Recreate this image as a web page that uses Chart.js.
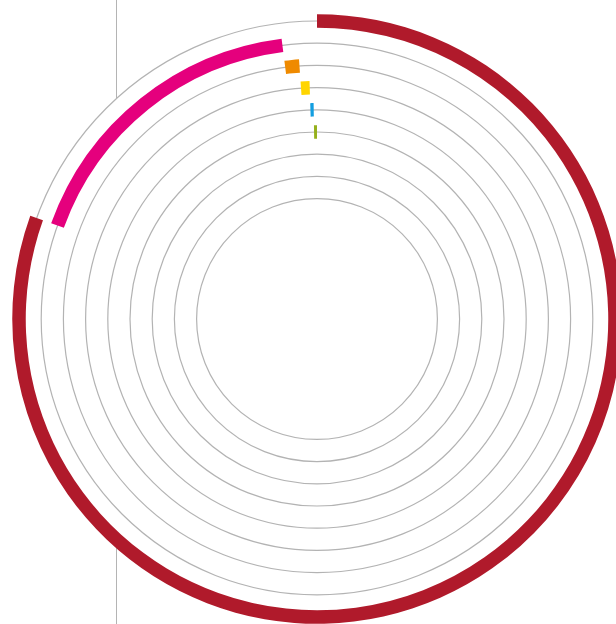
<!DOCTYPE html>
<html>
<head>
<meta charset="utf-8">
<script src="https://cdn.jsdelivr.net/npm/chart.js@4/dist/chart.umd.min.js"></script>
<style>
  html, body { margin: 0; padding: 0; width: 616px; height: 624px; overflow: hidden; background: #fff; }
  #axis-line { position: absolute; left: 116px; top: 0; width: 1px; height: 624px; background: #b4b4b4; }
  #rings { position: absolute; left: -3px; top: -1px; }
</style>
</head>
<body>
<div id="axis-line"></div>
<canvas id="rings" width="640" height="640"></canvas>
<script>
// categorie, quote (%) e colori, dall'esterno verso l'interno
const categories = ['Categoria 1', 'Categoria 2', 'Categoria 3', 'Categoria 4', 'Categoria 5', 'Categoria 6'];
const shares = [80.5, 17.5, 0.9, 0.6, 0.25, 0.25];
const colors = ['#b01a2b', '#e5007d', '#ef8a00', '#ffd500', '#139ee0', '#95b01c'];

const ringCount = 9;     // cerchi grigi
const outerRing = 298;   // raggio del cerchio esterno (px)
const ringStep = 22.2;
const band = 13.5;
const gap = ringStep - band;

// raggi dei cerchi della griglia
const ringRadii = [];
for (let i = 0; i < ringCount; i++) ringRadii.push(outerRing - i * ringStep);

// ogni anello parte dove finisce il precedente
const datasets = [];
let start = 0;
shares.forEach((value, i) => {
    if (i > 0) {
        datasets.push({ label: 'gap', data: [1], backgroundColor: ['rgba(0,0,0,0)'], weight: gap });
    }
    datasets.push({
        label: categories[i],
        data: [start, value, 100 - start - value],
        backgroundColor: ['rgba(0,0,0,0)', colors[i], 'rgba(0,0,0,0)'],
        weight: band
    });
    start += value;
});

const outerPx = outerRing + band / 2;
const innerPx = outerRing - (shares.length - 1) * ringStep - band / 2;

const ctx = document.getElementById('rings').getContext('2d');
const chart = new Chart(ctx, {
    type: 'doughnut',
    data: {
        labels: ['prima', 'valore', 'dopo'],
        datasets: datasets
    },
    options: {
        responsive: false,
        animation: false,
        radius: outerPx,
        cutout: (innerPx / outerPx * 100) + '%',
        borderWidth: 0,
        hoverOffset: 0,
        layout: { padding: 22 },
        scales: {
            r: {
                type: 'radialLinear',
                min: 0,
                max: outerRing,
                backgroundColor: '#ffffff',
                afterBuildTicks: function (scale) {
                    scale.ticks = [{ value: 0 }].concat(ringRadii.map(v => ({ value: v })));
                },
                ticks: { display: false },
                pointLabels: { display: false },
                angleLines: { display: false },
                grid: {
                    circular: true,
                    color: '#b3b3b3',
                    lineWidth: 1.2
                }
            }
        },
        plugins: {
            legend: { display: false },
            tooltip: { enabled: false }
        }
    }
});
</script>
</body>
</html>
